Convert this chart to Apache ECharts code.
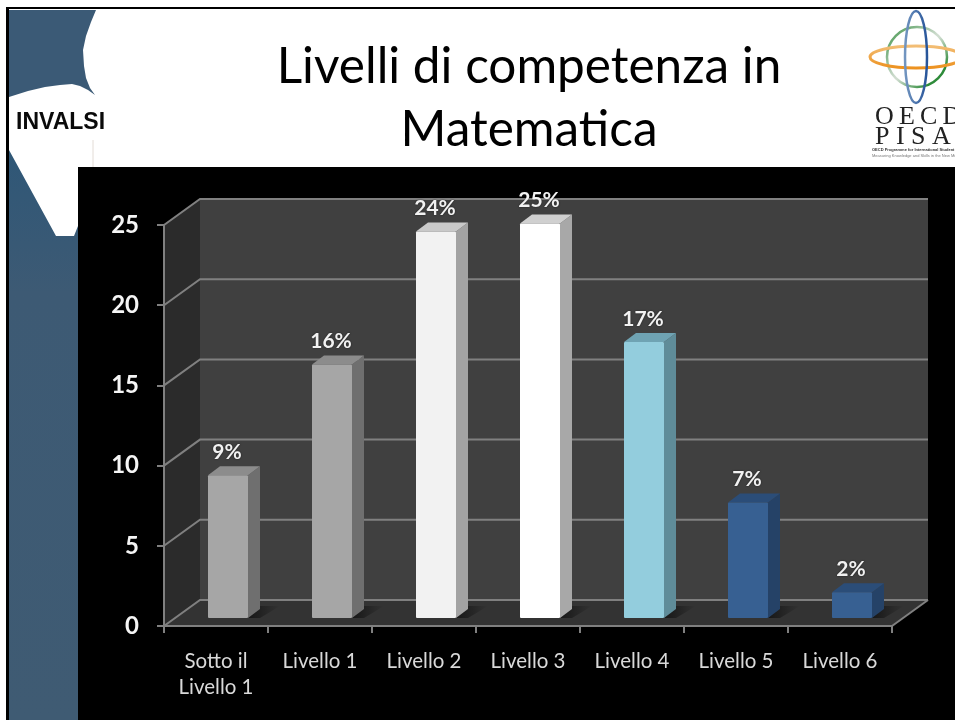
<!DOCTYPE html>
<html>
<head>
<meta charset="utf-8">
<style>html,body{margin:0;padding:0;background:#fff}#c{width:955px;height:720px}</style>
<script src="https://cdn.jsdelivr.net/npm/echarts@6/dist/echarts.min.js"></script>
</head>
<body>
<div id="c"></div>
<script>
const categories = ['Sotto il\nLivello 1','Livello 1','Livello 2','Livello 3','Livello 4','Livello 5','Livello 6'];
const values = [8.9, 15.8, 24.1, 24.6, 17.2, 7.2, 1.6];
const valueLabels = ['9%','16%','24%','25%','17%','7%','2%'];
const frontColors = ['#a6a6a6','#a6a6a6','#f2f2f2','#ffffff','#93cddd','#376092','#376092'];
const sideColors  = ['#6f6f6f','#6f6f6f','#a3a3a3','#a8a8a8','#5f8c99','#254267','#254267'];
const topColors   = ['#8c8c8c','#8c8c8c','#c9c9c9','#d0d0d0','#6fa3b3','#2b4d78','#2b4d78'];
const gridValues = [0,5,10,15,20,25];

const DX = 36, DY = -26;          // wall depth
const BAR_W = 40, BDX = 12, BDY = -9; // bar width and depth
const FLOOR_DX = 12, FLOOR_DY = -8;   // bar position on the floor

const font = 'Lato, "Open Sans", sans-serif';

function renderWalls(params, api) {
  const cs = params.coordSys;
  const x0 = cs.x, x1 = cs.x + cs.width;
  const yTop = api.coord([0, 25])[1], yBot = api.coord([0, 0])[1];
  const poly = (pts, fill) => ({type:'polygon', shape:{points:pts}, style:{fill}});
  const kids = [
    poly([[x0+DX,yTop+DY],[x1+DX,yTop+DY],[x1+DX,yBot+DY],[x0+DX,yBot+DY]], '#404040'),
    poly([[x0,yTop],[x0+DX,yTop+DY],[x0+DX,yBot+DY],[x0,yBot]], '#2b2b2b'),
    poly([[x0,yBot],[x0+DX,yBot+DY],[x1+DX,yBot+DY],[x1,yBot]], '#333333')
  ];
  gridValues.forEach(v => {
    const y = api.coord([0, v])[1];
    kids.push({type:'polyline', shape:{points:[[x0,y],[x0+DX,y+DY],[x1+DX,y+DY]]},
      style:{fill:null, stroke:'#808080', lineWidth:2}});
  });
  kids.push({type:'line', shape:{x1:x1,y1:yBot,x2:x1+DX,y2:yBot+DY}, style:{stroke:'#808080', lineWidth:2}});
  return {type:'group', children:kids};
}

function renderBar(params, api) {
  const i = api.value(0), v = api.value(1);
  const c = api.coord([i, v]), b = api.coord([i, 0]);
  const xl = c[0] + FLOOR_DX - BAR_W/2, xr = xl + BAR_W;
  const yt = c[1] + FLOOR_DY, yb = b[1] + FLOOR_DY;
  const front = frontColors[i], side = sideColors[i], top = topColors[i];
  const poly = (pts, fill) => ({type:'polygon', shape:{points:pts}, style:{fill}});
  return {type:'group', children:[
    {type:'polygon', shape:{points:[[xr,yb],[xr+BDX,yb+BDY-3],[xr+BDX+20,yb+BDY-3],[xr+12,yb]]},
      style:{fill:{type:'linear',x:0,y:0,x2:1,y2:0,colorStops:[{offset:0,color:'rgba(0,0,0,0.55)'},{offset:1,color:'rgba(0,0,0,0)'}]}}},
    poly([[xr,yt],[xr+BDX,yt+BDY],[xr+BDX,yb+BDY],[xr,yb]], side),
    poly([[xl,yt],[xl+BDX,yt+BDY],[xr+BDX,yt+BDY],[xr,yt]], top),
    {type:'rect', shape:{x:xl,y:yt,width:BAR_W,height:yb-yt,r:1},
      style:{fill:front}},
    {type:'text', style:{x:(xl+xr)/2 - 1, y:yt-23, text:valueLabels[i], fill:'#f2f2f2',
      font:'bold 21px '+font, align:'center', verticalAlign:'middle',
      textShadowColor:'rgba(0,0,0,0.6)', textShadowBlur:2}}
  ]};
}

const deco = [
  // slide frame
  {type:'rect', z:-20, shape:{x:6,y:7,width:949,height:2}, style:{fill:'#000'}},
  {type:'rect', z:-20, shape:{x:6,y:7,width:3,height:713}, style:{fill:'#000'}},
  // side band
  {type:'polygon', z:-19, shape:{points:[[9,150],[56,236],[74,236],[78,226],[78,720],[9,720]]},
    style:{fill:{type:'linear',x:0,y:0,x2:0,y2:1,colorStops:[{offset:0,color:'#2f5777'},{offset:0.25,color:'#3d5a74'},{offset:1,color:'#3f5b73'}]}}},
  // upper blob
  {type:'polygon', z:-19, shape:{points:[[9,10],[96,10],[91,22],[86,36],[83,50],[84,66],[86,78],[90,88],[95,95],[88,90],[80,86],[72,84],[60,85],[45,87],[28,91],[9,97]]},
    style:{fill:'#3b5a76'}},
  {type:'line', z:-19, shape:{x1:93,y1:140,x2:93,y2:167}, style:{stroke:'#e3dcd6', lineWidth:1}},
  // dark panel
  {type:'rect', z:-18, shape:{x:78,y:167,width:877,height:553}, style:{fill:'#000'}},
  {type:'text', z:-17, style:{x:16,y:123,text:'INVALSI',fill:'#0a0a0a',font:'bold 23px "Liberation Sans", Arial, sans-serif',align:'left',verticalAlign:'middle'}},
  // logo
  {type:'ellipse', z:-17, shape:{cx:917,cy:57,rx:30,ry:30},
    style:{fill:null,lineWidth:2.5,stroke:{type:'linear',x:0,y:0,x2:1,y2:1,colorStops:[{offset:0,color:'#2e8b3a'},{offset:0.48,color:'#cfdccf'},{offset:0.52,color:'#cfdccf'},{offset:0.8,color:'#2e8b3a'},{offset:1,color:'#2e8b3a'}]}}},
  {type:'ellipse', z:-16, shape:{cx:916,cy:57,rx:46,ry:11},
    style:{fill:null,lineWidth:3,stroke:{type:'linear',x:0,y:0,x2:0,y2:1,colorStops:[{offset:0,color:'#f3c27e'},{offset:1,color:'#ec8d16'}]}}},
  {type:'ellipse', z:-15, shape:{cx:916,cy:57,rx:11,ry:46},
    style:{fill:null,lineWidth:2.5,stroke:{type:'linear',x:0,y:0,x2:1,y2:0,colorStops:[{offset:0,color:'#7a9cc4'},{offset:1,color:'#1f4e96'}]}}},
  {type:'text', z:-15, style:{x:875,y:117,text:'O\u2009E\u2009C\u2009D',fill:'#222',font:'26px "Liberation Serif", serif',align:'left',verticalAlign:'middle'}},
  {type:'text', z:-15, style:{x:875,y:137,text:'P I S A',fill:'#222',font:'26px "Liberation Serif", serif',align:'left',verticalAlign:'middle'}},
  {type:'text', z:-15, style:{x:872,y:150,text:'OECD Programme for International Student Assessment',fill:'#333',font:'bold 4px "Liberation Sans", sans-serif',align:'left',verticalAlign:'middle'}},
  {type:'text', z:-15, style:{x:872,y:156,text:'Measuring Knowledge and Skills in the New Millennium',fill:'#777',font:'4px "Liberation Sans", sans-serif',align:'left',verticalAlign:'middle'}}
];

const chart = echarts.init(document.getElementById('c'), null, {renderer:'canvas'});
chart.setOption({
  animation:false,
  backgroundColor:'#ffffff',
  title:{text:'Livelli di competenza in\nMatematica', left:524, top:31, textAlign:'center',
    textStyle:{fontFamily:font, fontSize:49.5, fontWeight:'normal', color:'#000', lineHeight:63}},
  graphic:{elements:deco},
  grid:{left:164, right:63, top:225, bottom:94},
  xAxis:{type:'category', data:categories, z:5,
    axisLine:{lineStyle:{color:'#808080',width:2}},
    axisTick:{show:true,length:7,lineStyle:{color:'#808080',width:2},alignWithLabel:false},
    axisLabel:{color:'#d9d9d9',fontFamily:font,fontSize:20.5,margin:22,lineHeight:26,interval:0,hideOverlap:false},
    splitLine:{show:false}},
  yAxis:{type:'value', min:0, max:25, interval:5, z:5,
    axisLine:{show:true,lineStyle:{color:'#808080',width:2}},
    axisTick:{show:true,length:7,lineStyle:{color:'#808080',width:2}},
    axisLabel:{color:'#f5f5f5',fontFamily:font,fontSize:24,fontWeight:'bold',margin:25,padding:[6,0,0,0]},
    splitLine:{show:false}},
  series:[
    {type:'custom', name:'walls', z:1, silent:true, data:[[0,0]], renderItem:renderWalls, clip:false},
    {type:'custom', name:'Livelli', z:3, data:values.map((v,i)=>[i,v]), renderItem:renderBar, clip:false,
      encode:{x:0,y:1}}
  ]
});
</script>
</body>
</html>
